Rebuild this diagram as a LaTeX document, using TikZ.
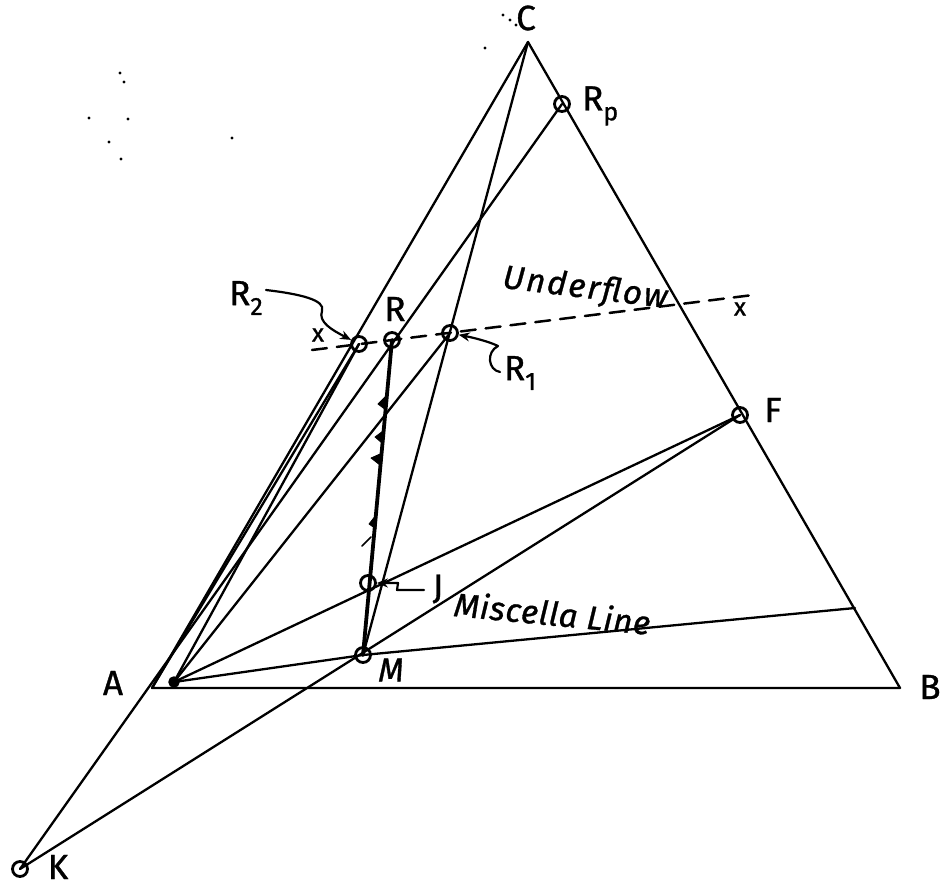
\documentclass[tikz,border=0pt]{standalone}
\usepackage{fontspec}
\setmainfont{Fira Sans}[FakeBold=1.0]
\usetikzlibrary{arrows.meta}
\newcommand{\mylow}[1]{\raisebox{-0.28em}{\fontsize{25}{25}\selectfont #1}}
\begin{document}
\begin{tikzpicture}[x=1pt,y=-1pt, line cap=round, line join=round,
  ln/.style={line width=2.3pt},
  heavy/.style={line width=3.8pt},
  pt/.style={circle, draw, line width=2.8pt, minimum size=15pt, inner sep=0pt},
  lbl/.style={font=\fontsize{35}{37}\selectfont, inner sep=0pt},
  hand/.style={font=\itshape\fontsize{33}{35}\selectfont, inner sep=0pt},
  wide/.style={font=\itshape\fontsize{33}{35}\selectfont\addfontfeatures{LetterSpace=#1}, inner sep=0pt},
  sm/.style={font=\fontsize{25}{27}\selectfont, inner sep=0pt},
  ptr/.style={line width=2.2pt, -{Stealth[length=11pt,width=9pt]}},
  barb/.style={fill=black, draw=black, line width=0.8pt},
  speck/.style={fill=black, draw=none},
]
\useasboundingbox (0,0) rectangle (944,889);
% vertices and points
\coordinate (A) at (152,688);
\coordinate (B) at (900,688);
\coordinate (C) at (528,42);
\coordinate (Mis) at (855,608);
\coordinate (Ux1) at (312,350);
\coordinate (Ux2) at (753,295);
\coordinate (Rp) at (562,104);
\coordinate (F) at (740,415);
\coordinate (M) at (363,655);
\coordinate (J) at (368,583);
\coordinate (R) at (392,340);
\coordinate (R1) at (450,333);
\coordinate (R2) at (359,344);
\coordinate (K) at (20,869);
\coordinate (Ap) at (174,682);
% triangle
\draw[ln] (A) -- (B) -- (C) -- cycle;
% construction lines
\draw[ln] (K) -- (Rp);
\draw[ln] (A) -- (R2);
\draw[ln] (Ap) -- (R2);
\draw[ln] (Ap) -- (R1);
\draw[ln] (Ap) -- (F);
\draw[ln] (Ap) -- (M);
\draw[ln] (C) -- (M);
\draw[ln] (F) -- (K);
\draw[ln] (M) -- (Mis);
\draw[heavy] (R) -- (M);
% underflow dashed line
\draw[line width=2.5pt, dash pattern=on 15pt off 10pt] (Ux1) -- (Ux2);
% barbs on R-M line
\fill[barb] (386,396) -- (378,404) -- (386,410) -- cycle;
\fill[barb] (383,431) -- (375,437) -- (382,443) -- cycle;
\fill[barb] (380,454) -- (371,458) -- (380,465) -- cycle;
\fill[barb] (376,515) -- (369,524) -- (376,529) -- cycle;
\draw[line width=1.5pt] (371,537) -- (362,546);
% point circles
\node[pt] (nRp) at (Rp) {};
\node[pt] (nF) at (F) {};
\node[pt] (nM) at (M) {};
\node[pt] (nJ) at (J) {};
\node[pt] (nR) at (R) {};
\node[pt] (nR1) at (R1) {};
\node[pt] (nR2) at (R2) {};
\node[pt] (nK) at (K) {};
\node[circle, draw, fill=black, line width=1.5pt, minimum size=10pt, inner sep=0pt] (nAp) at (Ap) {};
% labels
\node[lbl] (tC) at (526,18) {C};
\node[lbl, anchor=west] (tRp) at (582,106) {R\mylow{p}};
\node[lbl] (tA) at (113,683) {A};
\node[lbl] (tB) at (930,687) {B};
\node[lbl] (tK) at (58,867) {K};
\node[lbl] (tF) at (773,410) {F};
\node[lbl] (tR) at (395,309) {R};
\node[lbl] (tR2) at (246,298) {R\mylow{2}};
\node[lbl] (tR1) at (520,373) {R\mylow{1}};
\node[lbl] (tJ) at (438,589) {J};
\node[hand] (tM) at (391,670) {M};
\node[sm] (tx1) at (318,335) {x};
\node[sm] (tx2) at (740,309) {x};
\node[wide=6, rotate=-7, anchor=south] (tU) at (583,305) {Underflow};
\node[wide=2, rotate=-5.5, anchor=south] (tML) at (551,626) {Miscella Line};
% pointers
\draw[ptr] (266,290) .. controls (300,294) and (326,300) .. (322,311)
  .. controls (318,322) and (332,330) .. (nR2);
\draw[ptr] (500,372) .. controls (488,370) and (486,352) .. (498,346)
  .. controls (490,342) and (475,338) .. (nR1);
\draw[ptr] (424,590) -- (397,590) -- (398,583) -- (nJ);
% specks
\foreach \p in {(120,73),(124,82),(89,118),(128,119),(109,142),(121,159),(232,138),(485,48),(503,15),(510,20),(516,25)}
  \fill[speck] \p circle (1.6pt);
\end{tikzpicture}
\end{document}
